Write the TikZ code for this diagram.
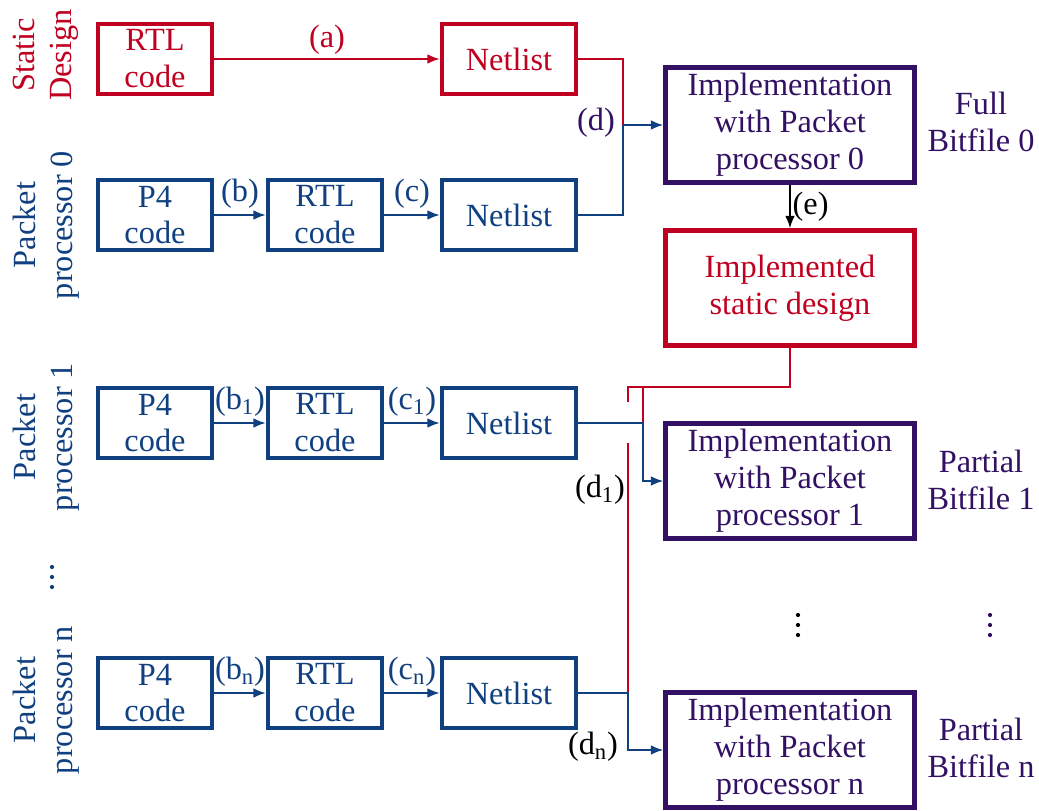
\documentclass[tikz,border=0pt]{standalone}
\usepackage{fontspec}
\setmainfont{Liberation Serif}
\usetikzlibrary{positioning}
\usetikzlibrary{arrows.meta}
\definecolor{sred}{RGB}{192,0,32}
\definecolor{pblue}{RGB}{16,64,128}
\definecolor{ipurple}{RGB}{50,16,100}

\begin{document}
\begin{tikzpicture}[x=0.02cm, y=-0.02cm,
    every node/.style={font=\fontsize{18.4}{21}\selectfont},
    blk/.style={draw, line width=2.6pt, align=center, inner sep=0pt, minimum width=2.28cm, minimum height=1.4cm},
    netbox/.style={blk, minimum width=2.68cm},
    implbox/.style={blk, minimum width=4.98cm, minimum height=2.3cm},
    conn/.style={line width=1.1pt},
    arr/.style={conn, -{Latex[length=7pt, width=5.5pt]}},
    lbl/.style={inner sep=1pt},
    side/.style={rotate=90, align=center},
    bit/.style={ipurple, align=center},
    vdot/.style={fill, circle, inner sep=0pt, minimum size=2.4pt}]
  \useasboundingbox (0,0) rectangle (1039,811);

  \node[blk, sred] (srtl) at (155,59) {RTL\\code};
  \node[netbox, sred] (snet) at (509,59) {Netlist};
  \node[side, sred] (sdes) at (46,55) {Static\\Design};
  \draw[arr, sred] (srtl) -- node[lbl, above=1pt] {(a)} (snet);

  \foreach \r/\y/\s in {0/215/{}, 1/423/\textsubscript{1}, n/693/\textsubscript{n}} {
    \node[blk, pblue] (p4\r) at (155,\y) {P4\\code};
    \node[blk, pblue] (rtl\r) at (325,\y) {RTL\\code};
    \node[netbox, pblue] (net\r) at (509,\y) {Netlist};
    \draw[arr, pblue] (p4\r) -- node[lbl, above=2pt] {(b\s)} (rtl\r);
    \draw[arr, pblue] (rtl\r) -- node[lbl, above=2pt] {(c\s)} (net\r);
  }
  \node[side, pblue] (pp0) at (46,225) {Packet\\processor 0};
  \node[side, pblue] (pp1) at (46,437) {Packet\\processor 1};
  \node[side, pblue] (ppn) at (46,700) {Packet\\processor n};

  \node[implbox, ipurple] (impl0) at (790,125) {Implementation\\with Packet\\processor 0};
  \node[implbox, sred] (isd) at (790,288) {Implemented\\static design};
  \node[implbox, ipurple] (impl1) at (790,481) {Implementation\\with Packet\\processor 1};
  \node[implbox, ipurple] (impln) at (790,750) {Implementation\\with Packet\\processor n};

  \node[bit] (bf0) at (981,122) {Full\\Bitfile 0};
  \node[bit] (bf1) at (981,480) {Partial\\Bitfile 1};
  \node[bit] (bfn) at (981,748) {Partial\\Bitfile n};
  \foreach \dx/\dy/\c in {52/567/pblue, 798/615/black, 990/615/ipurple} {
    \foreach \k in {0,1,2}
      \node[vdot, \c] at (\dx,\dy+10*\k) {};
  }

  \coordinate (j0) at (623,125);
  \coordinate (rtop) at (628,387);
  \coordinate (gap1) at (628,402);
  \coordinate (gap2) at (628,443);
  \coordinate (j1) at (643,423);
  \coordinate (jn) at (628,693);

  \draw[conn, sred] (snet.east) -| (j0);
  \draw[conn, pblue] (net0.east) -| (j0);
  \draw[arr, pblue] (j0) -- (impl0.west);
  \node[ipurple] (ld) at (596,123) {(d)};
  \draw[arr, black] (impl0) -- node[lbl, right] {(e)} (isd);

  \draw[conn, sred] (isd.south) |- (rtop) -- (gap1);
  \draw[conn, sred] (gap2) -- (jn);
  \draw[conn, sred] (j1 |- rtop) -- (j1);
  \draw[arr, pblue] (net1.east) -| (j1) |- (impl1.west);
  \draw[arr, pblue] (netn.east) -| (jn) |- (impln.west);
  \node (ld1) at (600,490) {(d\textsubscript{1})};
  \node (ldn) at (593,747) {(d\textsubscript{n})};
\end{tikzpicture}
\end{document}
